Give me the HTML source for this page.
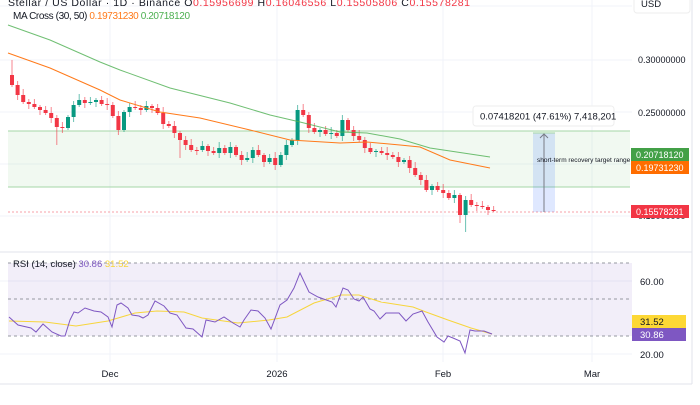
<!DOCTYPE html>
<html><head><meta charset="utf-8"><style>
body{margin:0;background:#fff;width:700px;height:400px;overflow:hidden;font-family:"Liberation Sans",sans-serif}
svg text{font-family:"Liberation Sans",sans-serif}
</style></head><body>
<svg id="s" width="700" height="400" xmlns="http://www.w3.org/2000/svg">
<rect width="700" height="400" fill="#fff"/>
<g stroke="#f0f3fa" stroke-width="1">
<line x1="110" y1="0" x2="110" y2="362"/><line x1="277" y1="0" x2="277" y2="362"/>
<line x1="443" y1="0" x2="443" y2="362"/><line x1="592" y1="0" x2="592" y2="362"/>
<line x1="0" y1="6" x2="632" y2="6"/><line x1="0" y1="60" x2="632" y2="60"/>
<line x1="0" y1="112" x2="632" y2="112"/><line x1="0" y1="164" x2="632" y2="164"/>
<line x1="0" y1="216" x2="632" y2="216"/>
<line x1="0" y1="281" x2="632" y2="281"/><line x1="0" y1="354" x2="632" y2="354"/>
</g>
<line x1="0" y1="252" x2="692" y2="252" stroke="#e0e3eb"/>
<line x1="692" y1="0" x2="692" y2="384" stroke="#e0e3eb"/>
<line x1="0" y1="384" x2="692" y2="384" stroke="#e0e3eb"/>
<rect x="8" y="131" width="622" height="56" fill="rgba(76,175,80,0.08)"/>
<line x1="8" y1="131" x2="630" y2="131" stroke="#a5d6a7"/>
<line x1="8" y1="187" x2="630" y2="187" stroke="#a5d6a7"/>
<line x1="8" y1="212" x2="630" y2="212" stroke="#f7a1a9" stroke-dasharray="2,2"/>
<g id="candles"></g>
<polyline fill="none" stroke="#4caf50" stroke-opacity="0.8" stroke-width="1" points="8,25 50,40 100,62 120,70 170,88 230,103 270,115 300,122 340,132 367,133 400,139 430,148 490,157"/>
<polyline fill="none" stroke="#ff7a1a" stroke-width="1" points="8,53 50,68 100,90 120,100 160,112 200,118 250,130 290,140 340,143 367,142 400,145 420,147 450,160 490,168"/>
<rect x="533" y="133" width="22" height="79" fill="rgba(41,98,255,0.15)"/>
<line x1="533" y1="133" x2="555" y2="133" stroke="#a5d6a7"/>
<line x1="544" y1="212" x2="544" y2="134" stroke="#787b86"/>
<polyline points="540,138 544,134 548,138" fill="none" stroke="#787b86"/>
<text x="537" y="162" font-size="6.5" fill="#131722">short-term recovery target range</text>
<rect x="473" y="106" width="141" height="20" rx="3" fill="#fff" stroke="#eee"/>
<text x="480" y="119.5" font-size="9.5" fill="#131722">0.07418201 (47.61%) 7,418,201</text>
<text x="8" y="6" font-size="10.5" fill="#131722" textLength="462" lengthAdjust="spacing">Stellar / US Dollar · 1D · Binance  O<tspan fill="#f23645">0.15956699</tspan>  H<tspan fill="#f23645">0.16046556</tspan>  L<tspan fill="#f23645">0.15505806</tspan>  C<tspan fill="#f23645">0.15578281</tspan></text>
<text x="13" y="19" font-size="10" fill="#131722" textLength="177" lengthAdjust="spacing">MA Cross (30, 50) <tspan fill="#ff7a1a">0.19731230</tspan> <tspan fill="#4caf50">0.20718120</tspan></text>
<rect x="634" y="-4" width="56" height="17" rx="3" fill="#fff" stroke="#eee"/>
<text x="641" y="7" font-size="9.5" fill="#131722">USD</text>
<g font-size="9" fill="#131722">
<text x="638" y="63">0.30000000</text><text x="638" y="116">0.25000000</text><text x="638" y="219">0.15000000</text>
</g>
<rect x="631" y="148" width="58" height="13" fill="#43a047"/>
<text x="636" y="158" font-size="9" fill="#fff">0.20718120</text>
<rect x="631" y="161" width="58" height="13" fill="#ff6d00"/>
<text x="636" y="171" font-size="9" fill="#fff">0.19731230</text>
<rect x="631" y="205" width="58" height="13" fill="#f23645"/>
<text x="636" y="215" font-size="9" fill="#fff">0.15578281</text>
<rect x="8" y="263" width="624" height="73" fill="rgba(126,87,194,0.1)"/>
<g stroke="#9598a1" stroke-dasharray="3,3"><line x1="8" y1="263" x2="632" y2="263"/><line x1="8" y1="299" x2="632" y2="299"/><line x1="8" y1="336" x2="632" y2="336"/></g>
<polyline fill="none" stroke="#f7d53c" stroke-width="1" points="9,321 45,322 76,326 108,321 135,313 157,311 184,312 202,318 238,323 269,320 287,317 314,303 341,295 359,295 381,302 413,307 426,312 448,320 471,328 492,334"/>
<polyline fill="none" stroke="#7e57c2" stroke-width="1" points="9,317 18,325 31,328 36,332 43,324 52,332 61,336 65,336 70,320 74,312 78,313 85,308 94,311 101,312 108,317 112,327 117,305 121,303 128,308 132,315 139,316 143,318 148,315 155,301 164,306 170,313 177,315 186,328 193,329 202,337 206,320 215,322 224,317 233,323 240,327 244,320 251,310 258,311 265,318 271,329 280,305 287,300 294,288 300,273 309,292 318,297 332,302 336,307 343,288 348,290 354,299 359,301 363,297 370,309 374,311 380,319 386,313 399,313 406,321 413,314 422,311 428,322 437,337 444,342 448,336 453,338 460,341 465,353 470,330 475,331 484,331 492,334"/>
<text x="13" y="267" font-size="9.5" fill="#131722">RSI (14, close) <tspan fill="#7e57c2">30.86</tspan> <tspan fill="#f7d53c">31.52</tspan></text>
<text x="640" y="285" font-size="9.5" fill="#131722">60.00</text>
<text x="640" y="358" font-size="9.5" fill="#131722">20.00</text>
<rect x="632" y="315" width="54" height="13" fill="#fdd835"/>
<text x="640" y="325" font-size="9.5" fill="#131722">31.52</text>
<rect x="632" y="328" width="54" height="13" fill="#7e57c2"/>
<text x="640" y="338" font-size="9.5" fill="#fff">30.86</text>
<g font-size="9.5" fill="#131722" text-anchor="middle">
<text x="110" y="377">Dec</text><text x="277" y="377">2026</text><text x="443" y="377">Feb</text><text x="592" y="377">Mar</text>
</g>
</svg>
<script>
var c=[85,95,102,104,107,110,113,118,127,128,117,105,100,103,102,100,104,105,116,130,112,107,108,110,106,108,113,124,126,133,140,145,150,150,146,151,153,148,153,147,155,160,158,150,155,162,158,165,155,145,140,110,115,128,132,130,134,133,136,120,130,136,140,148,152,151,153,155,157,162,160,168,175,180,190,186,190,193,198,195,215,200,205,206,207,210,210];
var g=document.getElementById('candles'),h='',o=75;
for(var i=0;i<c.length;i++){var x=10+5.6*i,cl=c[i],up=cl<o,col=up?'#089981':'#f23645';
var t=Math.min(o,cl)-2-(i*7%5),b=Math.max(o,cl)+2+(i*3%6);
if(i==0)t=60;if(i==51)t=105;if(i==80)b=223;if(i==81)b=232;if(i==8)b=145;if(i==30)b=158;
h+='<line x1="'+(x+2)+'" y1="'+t+'" x2="'+(x+2)+'" y2="'+b+'" stroke="'+col+'" stroke-opacity="0.6"/>';
h+='<rect x="'+x+'" y="'+Math.min(o,cl)+'" width="4" height="'+Math.max(1,Math.abs(cl-o))+'" fill="'+col+'"/>';o=cl;}
g.innerHTML=h;
</script>
</body></html>
